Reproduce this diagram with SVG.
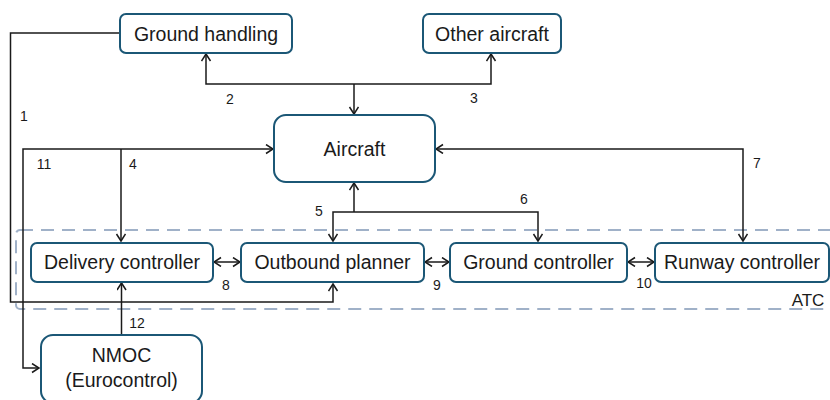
<svg xmlns="http://www.w3.org/2000/svg" width="830" height="400" viewBox="0 0 830 400">
<style>
.box{fill:#fff;stroke:#1b5776;stroke-width:2}
.t{font-family:"Liberation Sans",Arial,sans-serif;font-size:19.5px;fill:#1a1a1a;text-anchor:middle}
.n{font-family:"Liberation Sans",Arial,sans-serif;font-size:14px;fill:#1a1a1a;text-anchor:middle}
.c{fill:none;stroke:#1a1a1a;stroke-width:1.5}
.atc{fill:none;stroke:#a0b1c8;stroke-width:2;stroke-dasharray:13 8}
</style>
<defs>
<marker id="a" markerUnits="userSpaceOnUse" markerWidth="12" markerHeight="12" refX="8" refY="5" orient="auto-start-reverse">
<path d="M1,0.5 L8,5 L1,9.5" fill="none" stroke="#1a1a1a" stroke-width="1.5"/>
</marker>
</defs>
<rect class="atc" x="16" y="230" width="830" height="79" rx="4"/>
<text class="t" x="808" y="306" style="font-size:17px">ATC</text>
<g id="connectors">
<polyline class="c" points="120,33 10.5,33 10.5,302 333,302 333,284" marker-end="url(#a)"/>
<polyline class="c" points="273,149 23,149 23,368 39,368" marker-start="url(#a)" marker-end="url(#a)"/>
<polyline class="c" points="121,149 121,241" marker-end="url(#a)"/>
<polyline class="c" points="206,54 206,84 491,84 491,54" marker-start="url(#a)" marker-end="url(#a)"/>
<polyline class="c" points="354,84 354,114" marker-end="url(#a)"/>
<polyline class="c" points="436,149 743,149 743,241" marker-start="url(#a)" marker-end="url(#a)"/>
<polyline class="c" points="354,212 354,183" marker-end="url(#a)"/>
<polyline class="c" points="333,241 333,212 538,212 538,241" marker-start="url(#a)" marker-end="url(#a)"/>
<polyline class="c" points="121.5,335 121.5,283" marker-end="url(#a)"/>
<line class="c" x1="214" y1="262" x2="240" y2="262" marker-start="url(#a)" marker-end="url(#a)"/>
<line class="c" x1="425" y1="262" x2="449" y2="262" marker-start="url(#a)" marker-end="url(#a)"/>
<line class="c" x1="628" y1="262" x2="654" y2="262" marker-start="url(#a)" marker-end="url(#a)"/>
<text class="n" x="24" y="121">1</text>
<text class="n" x="230" y="104">2</text>
<text class="n" x="474" y="103">3</text>
<text class="n" x="44" y="169">11</text>
<text class="n" x="133" y="169">4</text>
<text class="n" x="757" y="168">7</text>
<text class="n" x="319" y="216">5</text>
<text class="n" x="524" y="204">6</text>
<text class="n" x="226" y="290">8</text>
<text class="n" x="437" y="290">9</text>
<text class="n" x="644" y="288">10</text>
<text class="n" x="137" y="328">12</text>
</g>
<g id="ground-handling"><rect class="box" x="120" y="14" width="172" height="39" rx="6"/><text class="t" x="206" y="41">Ground handling</text></g>
<g id="other-aircraft"><rect class="box" x="423" y="14" width="138" height="39" rx="6"/><text class="t" x="492" y="41">Other aircraft</text></g>
<g id="aircraft"><rect class="box" x="274" y="115" width="161" height="67" rx="12"/><text class="t" x="354.5" y="156">Aircraft</text></g>
<g id="delivery-controller"><rect class="box" x="31" y="243" width="182" height="39" rx="6"/><text class="t" x="122" y="269">Delivery controller</text></g>
<g id="outbound-planner"><rect class="box" x="241" y="243" width="183" height="39" rx="6"/><text class="t" x="332.5" y="269">Outbound planner</text></g>
<g id="ground-controller"><rect class="box" x="450" y="243" width="177" height="39" rx="6"/><text class="t" x="538.5" y="269">Ground controller</text></g>
<g id="runway-controller"><rect class="box" x="655" y="243" width="174" height="39" rx="6"/><text class="t" x="742" y="269">Runway controller</text></g>
<g id="nmoc"><rect class="box" x="41" y="335" width="161" height="68" rx="12"/><text class="t" x="121.5" y="362">NMOC</text><text class="t" x="121.5" y="387">(Eurocontrol)</text></g>
</svg>
